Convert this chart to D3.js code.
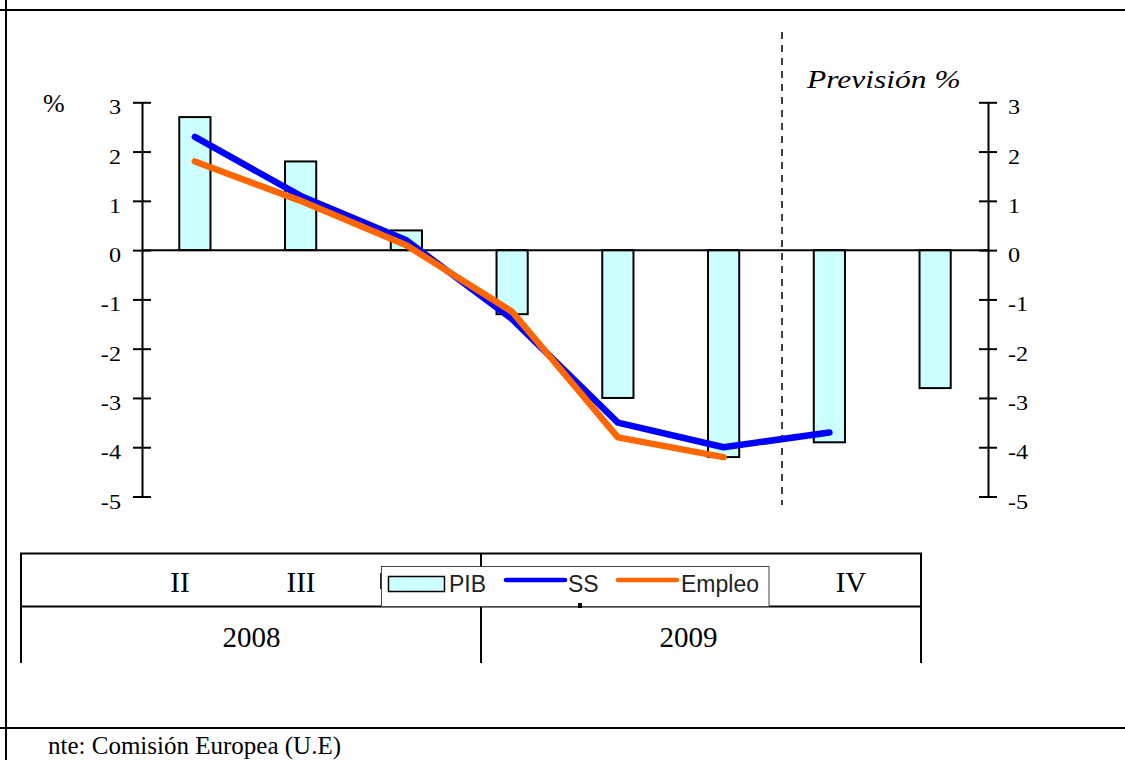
<!DOCTYPE html>
<html>
<head>
<meta charset="utf-8">
<script src="https://cdn.jsdelivr.net/npm/d3@7/dist/d3.min.js"></script>
<style>
  html, body { margin: 0; padding: 0; background: #fff; }
  svg { display: block; }
</style>
</head>
<body>
<script>
// ---------- data ----------
const categories = ["2008-II", "2008-III", "2008-IV", "2009-I", "2009-II", "2009-III", "2009-IV", "2010-I"];
const pib    = [2.7, 1.8, 0.4, -1.3, -3.0, -4.2, -3.9, -2.8];
const ss     = [2.3, 1.1, 0.2, -1.4, -3.5, -4.0, -3.7];
const empleo = [1.8, 1.0, 0.1, -1.25, -3.8, -4.2];
const yTicks = [-5, -4, -3, -2, -1, 0, 1, 2, 3];
const quarterLabels = ["II", "III", "IV"];
const yearLabels = ["2008", "2009"];
const seriesNames = ["PIB", "SS", "Empleo"];
const forecastLabel = "Previsión %";
const unitLabel = "%";
const sourceText = "nte: Comisión Europea (U.E)";

// ---------- setup ----------
const W = 1125, H = 760;
const serif = "'Liberation Serif', 'Times New Roman', serif";
const sans = "'Liberation Sans', Arial, sans-serif";
const colPIB = "#CCFFFF", colSS = "#0000FF", colEmp = "#FF6600";

const svg = d3.select("body").append("svg").attr("width", W).attr("height", H);

function stretch(sel, f) {
  sel.each(function () {
    const w = this.getComputedTextLength();
    d3.select(this).attr("textLength", w * f).attr("lengthAdjust", "spacingAndGlyphs");
  });
}

// frame lines
svg.append("line").attr("x1", 0).attr("x2", W).attr("y1", 10).attr("y2", 10).attr("stroke", "#000").attr("stroke-width", 2);
svg.append("line").attr("x1", 6).attr("x2", 6).attr("y1", 0).attr("y2", H).attr("stroke", "#000").attr("stroke-width", 2);
svg.append("line").attr("x1", 0).attr("x2", W).attr("y1", 728).attr("y2", 728).attr("stroke", "#000").attr("stroke-width", 2);

// scales
const x = d3.scaleBand().domain(categories).range([142, 988]);
const y = d3.scaleLinear().domain([-5, 3]).range([496.5, 102.3]);
const cx = c => x(c) + x.bandwidth() / 2;
const barW = x.bandwidth() * 0.295;

// bars
svg.append("g").selectAll("rect").data(pib).join("rect")
  .attr("x", (d, i) => cx(categories[i]) - barW / 2)
  .attr("y", d => y(Math.max(0, d)))
  .attr("width", barW)
  .attr("height", d => Math.abs(y(d) - y(0)))
  .attr("fill", colPIB).attr("stroke", "#000").attr("stroke-width", 2);

// zero line
svg.append("line").attr("x1", 142).attr("x2", 988).attr("y1", y(0)).attr("y2", y(0))
  .attr("stroke", "#000").attr("stroke-width", 2);

// axes
function styleAxis(g, side) {
  g.select(".domain").attr("stroke-width", 2);
  g.selectAll(".tick line").attr("x1", -9).attr("x2", 9).attr("stroke-width", 2);
  g.selectAll(".tick text")
    .attr("font-family", serif).attr("font-size", 22).attr("fill", "#000")
    .attr("dy", 0).attr("y", 11.5)
    .attr("x", side === "left" ? -21 : 20)
    .attr("text-anchor", side === "left" ? "end" : "start");
  stretch(g.selectAll(".tick text"), 1.1);
}
const fmt = d => String(d);
const gL = svg.append("g").attr("transform", "translate(142,0)")
  .call(d3.axisLeft(y).tickValues(yTicks).tickSizeOuter(0).tickSizeInner(9).tickFormat(fmt));
styleAxis(gL, "left");
const gR = svg.append("g").attr("transform", "translate(988,0)")
  .call(d3.axisRight(y).tickValues(yTicks).tickSizeOuter(0).tickSizeInner(9).tickFormat(fmt));
styleAxis(gR, "right");

// dashed forecast separator
const sepX = x(categories[6]) + 5.5;
svg.append("line").attr("x1", sepX).attr("x2", sepX).attr("y1", 32).attr("y2", 505)
  .attr("stroke", "#000").attr("stroke-width", 1.5).attr("stroke-dasharray", "7,6");

// lines
const lineGen = d3.line().x((d, i) => cx(categories[i])).y(d => y(d));
svg.append("path").datum(ss).attr("d", lineGen).attr("fill", "none").attr("stroke", colSS)
  .attr("stroke-width", 6.5).attr("stroke-linecap", "round").attr("stroke-linejoin", "round");
svg.append("path").datum(empleo).attr("d", lineGen).attr("fill", "none").attr("stroke", colEmp)
  .attr("stroke-width", 6.5).attr("stroke-linecap", "round").attr("stroke-linejoin", "round");

// labels
svg.append("text").attr("x", 43).attr("y", 112).attr("font-family", serif).attr("font-size", 26).text(unitLabel);
const prev = svg.append("text").attr("x", 807).attr("y", 88).attr("font-family", serif)
  .attr("font-style", "italic").attr("font-size", 25).text(forecastLabel);
stretch(prev, 1.26);

// table
const tbl = svg.append("g").attr("stroke", "#000").attr("stroke-width", 2);
tbl.append("line").attr("x1", 20).attr("x2", 922).attr("y1", 553.5).attr("y2", 553.5);
tbl.append("line").attr("x1", 20).attr("x2", 922).attr("y1", 606.5).attr("y2", 606.5);
[21, 481, 921].forEach(v => tbl.append("line").attr("x1", v).attr("x2", v).attr("y1", 553).attr("y2", 663));

const qPos = [180, 301, 851];
quarterLabels.forEach((t, i) => svg.append("text").attr("x", qPos[i]).attr("y", 591.5)
  .attr("text-anchor", "middle").attr("font-family", serif).attr("font-size", 29).text(t));
const yPos = [251.5, 688.5];
yearLabels.forEach((t, i) => svg.append("text").attr("x", yPos[i]).attr("y", 647)
  .attr("text-anchor", "middle").attr("font-family", serif).attr("font-size", 29).text(t));

// legend
const lg = svg.append("g");
lg.append("rect").attr("x", 380).attr("y", 573).attr("width", 3).attr("height", 16).attr("fill", "#222");
lg.append("rect").attr("x", 381.5).attr("y", 566.5).attr("width", 387.5).attr("height", 40)
  .attr("fill", "#fff").attr("stroke", "#444").attr("stroke-width", 1);
lg.append("rect").attr("x", 388.5).attr("y", 576.5).attr("width", 56).attr("height", 15)
  .attr("fill", colPIB).attr("stroke", "#000").attr("stroke-width", 1.5);
lg.append("line").attr("x1", 506).attr("x2", 565).attr("y1", 580).attr("y2", 580)
  .attr("stroke", colSS).attr("stroke-width", 4.5).attr("stroke-linecap", "round");
lg.append("line").attr("x1", 618).attr("x2", 677).attr("y1", 580).attr("y2", 580)
  .attr("stroke", colEmp).attr("stroke-width", 4.5).attr("stroke-linecap", "round");
const legX = [449, 568, 681];
seriesNames.forEach((t, i) => lg.append("text").attr("x", legX[i]).attr("y", 591.5)
  .attr("font-family", sans).attr("font-size", 23).attr("fill", "#222").text(t));
lg.append("rect").attr("x", 578).attr("y", 603).attr("width", 4).attr("height", 5).attr("fill", "#000");

// source
svg.append("text").attr("x", 48).attr("y", 754).attr("font-family", serif).attr("font-size", 25).text(sourceText);
</script>
</body>
</html>
